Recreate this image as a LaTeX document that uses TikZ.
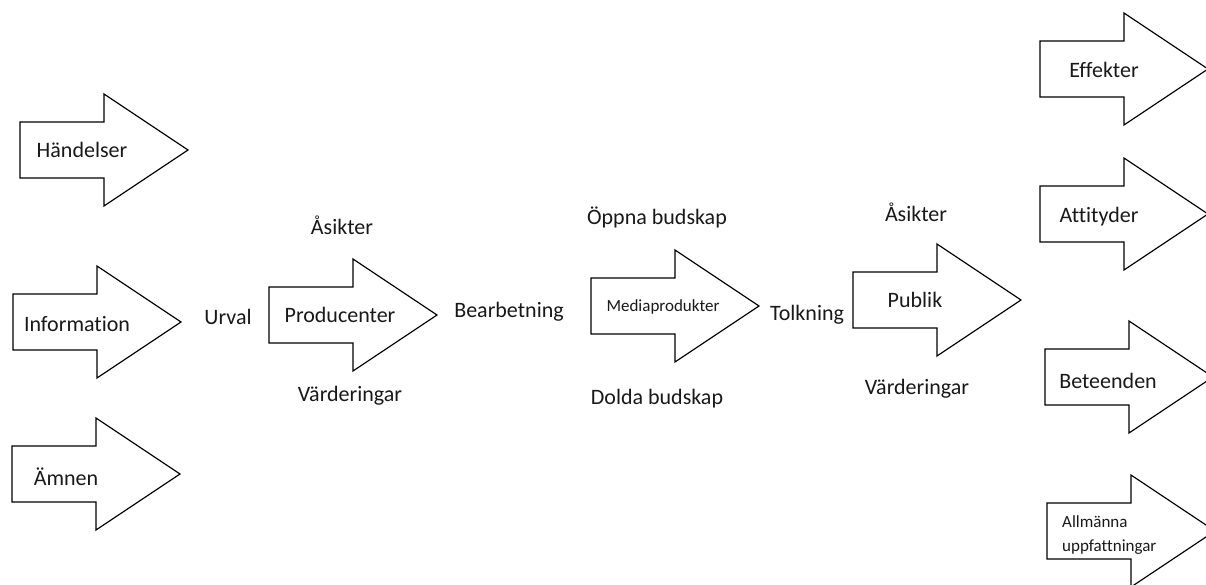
\documentclass[tikz,border=0pt]{standalone}
\usepackage{fontspec}
\setmainfont{Carlito}[Ligatures=NoCommon]
\usepackage{tikz}
\newcommand{\flowArrow}[1]{\draw[arrow outline, shift={(#1)}] (0,-28) -- (84,-28) -- (84,-56) -- (168,0) -- (84,56) -- (84,28) -- (0,28) -- cycle;}
\newcommand{\bigText}[0]{\fontsize{22}{26}\selectfont}
\newcommand{\smallText}[0]{\fontsize{17}{24}\selectfont}

\begin{document}
\begin{tikzpicture}[x=1pt, y=-1pt]
  \tikzset{arrow outline/.style={draw=black, line width=1.2pt, fill=white, line join=miter},
           word/.style={anchor=base, inner sep=0pt, font=\bigText, text=black!90}}
  \clip (0,0) rectangle (1206,584);
  \fill[white] (0,0) rectangle (1206,584);
  % tails of the arrows
  \coordinate (tail-haendelser) at (20,150);
  \coordinate (tail-information) at (13,322);
  \coordinate (tail-aemnen) at (12,474);
  \coordinate (tail-producenter) at (269,315);
  \coordinate (tail-media) at (591,306);
  \coordinate (tail-publik) at (853,300);
  \coordinate (tail-effekter) at (1040,69);
  \coordinate (tail-attityder) at (1040,214);
  \coordinate (tail-beteenden) at (1045,377);
  \coordinate (tail-allmaenna) at (1047,531);
  \foreach \a in {haendelser,information,aemnen,producenter,media,publik,effekter,attityder,beteenden,allmaenna}
    {\flowArrow{tail-\a}}
  % texts in the arrows
  \node[word] (haendelser) at (82,157) {Händelser};
  \node[word] (information) at (77,331) {Information};
  \node[word] (aemnen) at (66,485) {Ämnen};
  \node[word] (producenter) at (340,322) {Producenter};
  \node[word, font=\smallText] (media) at (663,311) {Mediaprodukter};
  \node[word] (publik) at (915,307) {Publik};
  \node[word] (effekter) at (1104,77) {Effekter};
  \node[word] (attityder) at (1099,222) {Attityder};
  \node[word] (beteenden) at (1108,388) {Beteenden};
  \node[word, font=\smallText, anchor=west, align=left] (allmaenna) at (1062,535) {Allmänna\\uppfattningar};
  % texts between the arrows
  \node[word] (urval) at (228,324) {Urval};
  \node[word] (asikter-1) at (342,234) {Åsikter};
  \node[word] (varderingar-1) at (350,401) {Värderingar};
  \node[word] (bearbetning) at (509,317) {Bearbetning};
  \node[word] (oppna) at (657,224) {Öppna budskap};
  \node[word] (dolda) at (657,404) {Dolda budskap};
  \node[word] (tolkning) at (807,320) {Tolkning};
  \node[word] (asikter-2) at (916,221) {Åsikter};
  \node[word] (varderingar-2) at (917,394) {Värderingar};
\end{tikzpicture}
\end{document}
